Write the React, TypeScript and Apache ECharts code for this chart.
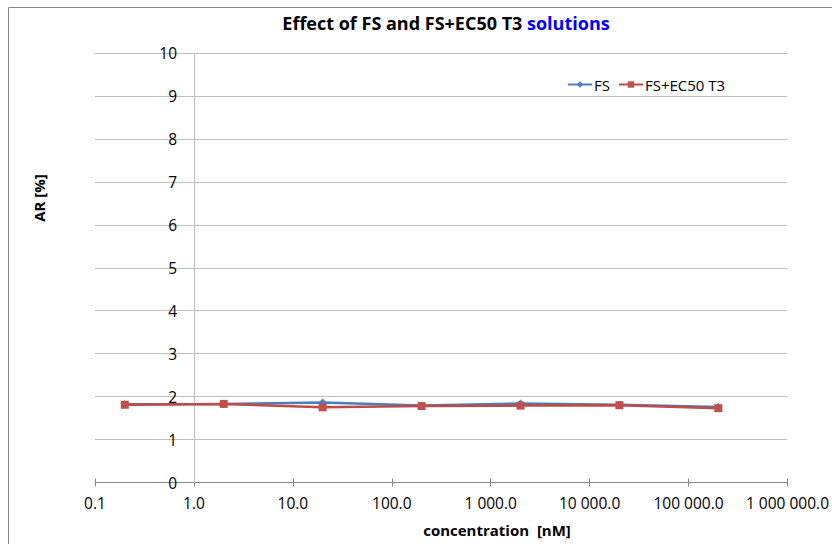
import React, { useEffect, useRef } from "react";
import * as echarts from "echarts";

const concentrations = [0.2, 2, 20, 200, 2000, 20000, 200000];
const fsValues = [1.82, 1.83, 1.86, 1.79, 1.84, 1.81, 1.76];
const fsEc50Values = [1.81, 1.83, 1.75, 1.78, 1.79, 1.8, 1.73];
const seriesNames = ["FS", "FS+EC50 T3"];
const yTicks = { min: 0, max: 10, interval: 1 };
const xRange = { min: 0.1, max: 1000000 };

const FONT = "'Open Sans', 'Noto Sans', sans-serif";

function fmtX(v: number): string {
  const s = v.toFixed(1);
  const [intPart, dec] = s.split(".");
  const withSpaces = intPart.replace(/\B(?=(\d{3})+(?!\d))/g, " ");
  return withSpaces + "." + dec;
}

export default function App() {
  const ref = useRef<HTMLDivElement>(null);
  useEffect(() => {
    document.body.style.margin = "0";
    document.body.style.overflow = "hidden";
    if (!ref.current) return;
    const chart = echarts.init(ref.current, undefined, { renderer: "svg" });
    const pairs = (vals: number[]) => concentrations.map((c, i) => [c, vals[i]]);
    chart.setOption({
      animation: false,
      backgroundColor: "#ffffff",
      textStyle: { fontFamily: FONT },
      title: {
        text: "{a|Effect of FS and FS+EC50 T3 }{b|solutions}",
        left: 441,
        top: 9,
        textAlign: "center",
        textStyle: {
          rich: {
            a: { fontFamily: FONT, fontWeight: "bold", fontSize: 18, color: "#000000" },
            b: { fontFamily: FONT, fontWeight: "bold", fontSize: 18, color: "#0000ff" },
          },
        },
      },
      legend: {
        left: 562,
        top: 72,
        itemWidth: 24,
        itemHeight: 8,
        itemGap: 8,
        textStyle: { fontFamily: FONT, fontSize: 15, color: "#000000", padding: [0, 0, 0, -3] },
        data: seriesNames,
      },
      grid: { left: 95, right: 42, top: 53, bottom: 61.5, containLabel: false },
      xAxis: [
        {
          type: "log",
          logBase: 10,
          min: xRange.min,
          max: xRange.max,
          splitNumber: 7,
          axisLine: { show: true, lineStyle: { color: "#868686", width: 1 } },
          axisTick: { show: true, length: 4, lineStyle: { color: "#868686" } },
          axisLabel: {
            fontFamily: FONT,
            fontSize: 15.5,
            color: "#000000",
            margin: 12,
            formatter: (v: number) => fmtX(v),
          },
          splitLine: { show: false },
          minorTick: { show: false },
        },
        {
          type: "log",
          logBase: 10,
          min: xRange.min,
          max: xRange.max,
          splitNumber: 7,
          position: "bottom",
          axisLine: { show: false },
          axisTick: { show: true, inside: true, length: 4, lineStyle: { color: "#868686" } },
          axisLabel: { show: false },
          splitLine: { show: false },
        },
      ],
      yAxis: {
        type: "value",
        min: yTicks.min,
        max: yTicks.max,
        interval: yTicks.interval,
        axisLine: { show: false },
        axisTick: { show: false },
        axisLabel: {
          fontFamily: FONT,
          fontSize: 15.5,
          color: "#000000",
          margin: -82,
        },
        splitLine: { show: true, lineStyle: { color: "#bfbfbf", width: 1 } },
      },
      series: [
        {
          name: seriesNames[0],
          type: "line",
          data: pairs(fsValues),
          symbol: "diamond",
          symbolSize: 8,
          itemStyle: { color: "#4F81BD" },
          lineStyle: { color: "#4A7EBB", width: 2.5 },
          z: 3,
          markLine: {
            silent: true,
            symbol: ["none", "none"],
            label: { show: false },
            lineStyle: { color: "#bfbfbf", type: "solid", width: 1 },
            data: [{ xAxis: 1 }],
            z: 1,
          },
        },
        {
          name: seriesNames[1],
          type: "line",
          data: pairs(fsEc50Values),
          symbol: "rect",
          symbolSize: 8,
          itemStyle: { color: "#C0504D" },
          lineStyle: { color: "#BE4B48", width: 2.5 },
          z: 4,
        },
      ],
      graphic: [
        {
          type: "rect",
          silent: true,
          shape: { x: 8.5, y: 7.5, width: 900, height: 700 },
          style: { fill: "none", stroke: "#878787", lineWidth: 1 },
          z: -1,
        },
        {
          type: "text",
          x: 39,
          y: 198,
          rotation: Math.PI / 2,
          style: {
            text: "AR [%]",
            font: `bold 15px ${FONT}`,
            fill: "#000000",
            align: "center",
            verticalAlign: "middle",
          },
        },
        {
          type: "text",
          x: 497,
          y: 530,
          style: {
            text: "concentration  [nM]",
            font: `bold 15px ${FONT}`,
            fill: "#000000",
            align: "center",
            verticalAlign: "middle",
          },
        },
      ],
    });
    return () => chart.dispose();
  }, []);
  return <div ref={ref} style={{ width: 832, height: 544 }} />;
}
